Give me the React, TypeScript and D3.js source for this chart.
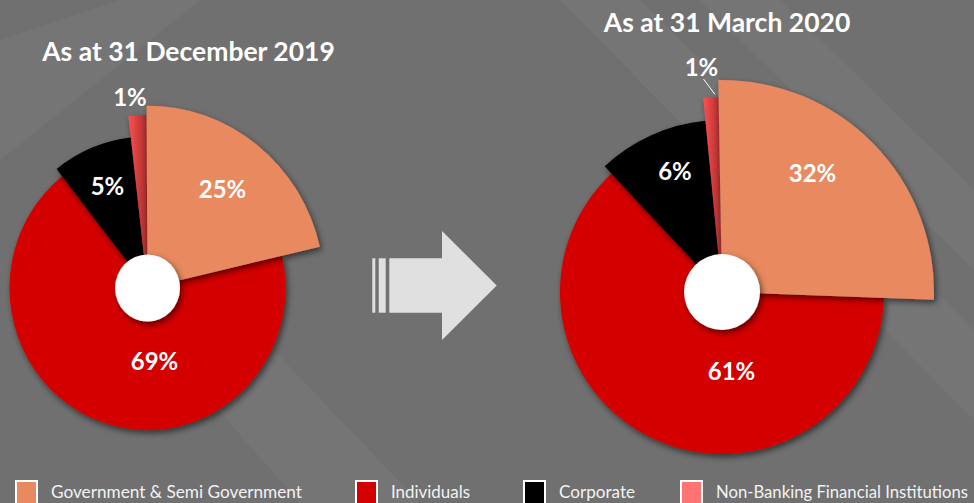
import React from "react";
import * as d3 from "d3";

const W = 974;
const H = 503;

const categories = [
  "Government & Semi Government",
  "Individuals",
  "Corporate",
  "Non-Banking Financial Institutions",
];
const legendColors = ["#e8895f", "#d40000", "#000000", "#ff7373"];
const sliceColors = ["#e8895f", "#d40000", "#000000", "url(#pinkGrad)"];

// angular share of each slice as drawn (degrees)
const decAngles = [77.2, 244.9, 31.7, 6.2];
const marAngles = [93.1, 224.9, 37.5, 4.5];
// printed labels
const decLabels = ["25%", "69%", "5%", "1%"];
const marLabels = ["32%", "61%", "6%", "1%"];
// relative outer radius of each slice
const decRadius = [177, 138, 147, 168];
const marRadius = [212, 162, 172, 195];

const titles = ["As at 31 December 2019", "As at 31 March 2020"];

type PieCfg = {
  cx: number;
  cy: number;
  sy: number;
  start: number;
  hole: number;
  angles: number[];
  labels: string[];
  radii: number[];
  labelOffsets: [number, number][];
  leader: boolean;
  title: string;
  titlePos: [number, number];
};

const pies: PieCfg[] = [
  {
    cx: 147.5,
    cy: 288,
    sy: 1.03,
    start: -0.3,
    hole: 32.5,
    angles: decAngles,
    labels: decLabels,
    radii: decRadius,
    labelOffsets: [
      [75, -100],
      [7, 72],
      [-40, -103],
      [-17.5, -192],
    ],
    leader: false,
    title: titles[0],
    titlePos: [188.5, 61],
  },
  {
    cx: 722,
    cy: 292,
    sy: 1.0,
    start: -1.0,
    hole: 38,
    angles: marAngles,
    labels: marLabels,
    radii: marRadius,
    labelOffsets: [
      [90.5, -120],
      [9.5, 78],
      [-47, -122],
      [-20.5, -226],
    ],
    leader: true,
    title: titles[1],
    titlePos: [727, 31.5],
  },
];

const drawOrder = [1, 2, 3, 0];

function Pie({ cfg }: { cfg: PieCfg }) {
  const rad = Math.PI / 180;
  const arcs = d3
    .pie<number>()
    .sort(null)
    .value((d) => d)
    .startAngle(cfg.start * rad)
    .endAngle((cfg.start + 360) * rad)(cfg.angles);
  const arcGen = d3.arc<d3.PieArcDatum<number>>().innerRadius(0);
  const pink = arcs[3];
  const pinkMid = (pink.startAngle + pink.endAngle) / 2;
  const rp = cfg.radii[3] + 1;
  return (
    <g>
      <g transform={`translate(${cfg.cx},${cfg.cy})`}>
        <g transform={`scale(1,${cfg.sy})`}>
          {drawOrder.map((i) => (
            <path
              key={i}
              d={arcGen.outerRadius(cfg.radii[i])(arcs[i]) || ""}
              fill={sliceColors[i]}
              filter="url(#shadow)"
            />
          ))}
          <circle r={cfg.hole} fill="#ffffff" filter="url(#shadow)" />
        </g>
        {cfg.leader && (
          <line
            x1={cfg.labelOffsets[3][0] + 2}
            y1={cfg.labelOffsets[3][1] + 13}
            x2={rp * Math.sin(pinkMid) + 4}
            y2={-rp * Math.cos(pinkMid) - 2}
            stroke="#ffffff"
            strokeWidth={1}
          />
        )}
        {cfg.labels.map((l, i) => (
          <text
            key={i}
            x={cfg.labelOffsets[i][0]}
            y={cfg.labelOffsets[i][1]}
            textAnchor="middle"
            dominantBaseline="central"
            fill="#ffffff"
            fontFamily="Lato, 'Open Sans', sans-serif"
            fontWeight={700}
            fontSize={24}
          >
            {l}
          </text>
        ))}
      </g>
      <text
        x={cfg.titlePos[0]}
        y={cfg.titlePos[1]}
        textAnchor="middle"
        fill="#ffffff"
        fontFamily="Lato, 'Open Sans', sans-serif"
        fontWeight={700}
        fontSize={26.5}
      >
        {cfg.title}
      </text>
    </g>
  );
}

const legendX = [15, 355, 523, 680];
const legendTextWidth = [251, 79, 76, 252];

export default function App() {
  return (
    <svg
      width={W}
      height={H}
      style={{ position: "absolute", left: 0, top: 0, display: "block" }}
    >
      <defs>
        <filter id="shadow" x="-20%" y="-20%" width="140%" height="140%">
          <feDropShadow dx="2" dy="3" stdDeviation="3" floodColor="#000" floodOpacity="0.55" />
        </filter>
        <linearGradient id="pinkGrad" x1="0" x2="1" y1="0" y2="0">
          <stop offset="0%" stopColor="#ff5050" />
          <stop offset="100%" stopColor="#a52a2a" />
        </linearGradient>
      </defs>
      <rect width={W} height={H} fill="#707070" />
      {/* faint background bands */}
      <g fill="#ffffff" opacity={0.035}>
        <polygon points="0,40 120,0 200,0 0,160" />
        <polygon points="560,0 640,0 974,330 974,420" />
        <polygon points="700,0 780,0 974,190 974,270" />
        <polygon points="300,503 420,503 130,200 60,230" />
      </g>
      {pies.map((p, i) => (
        <Pie key={i} cfg={p} />
      ))}
      {/* arrow */}
      <g fill="#e0e0e0">
        <rect x={372.3} y={258.3} width={3} height={54.4} />
        <rect x={378.7} y={258.3} width={7} height={54.4} />
        <polygon points="389.3,258.3 442,258.3 442,231 496.7,285.5 442,340 442,312.7 389.3,312.7" />
      </g>
      {categories.map((c, i) => (
        <g key={c}>
          <rect
            x={legendX[i] + 1}
            y={481}
            width={21}
            height={24}
            fill={legendColors[i]}
            stroke="#ffffff"
            strokeWidth={2}
          />
          <text
            x={legendX[i] + 36}
            y={498}
            fill="#f2f2f2"
            fontFamily="Lato, 'Open Sans', sans-serif"
            fontSize={16.6}
            textLength={legendTextWidth[i]}
            lengthAdjust="spacingAndGlyphs"
          >
            {c}
          </text>
        </g>
      ))}
    </svg>
  );
}
